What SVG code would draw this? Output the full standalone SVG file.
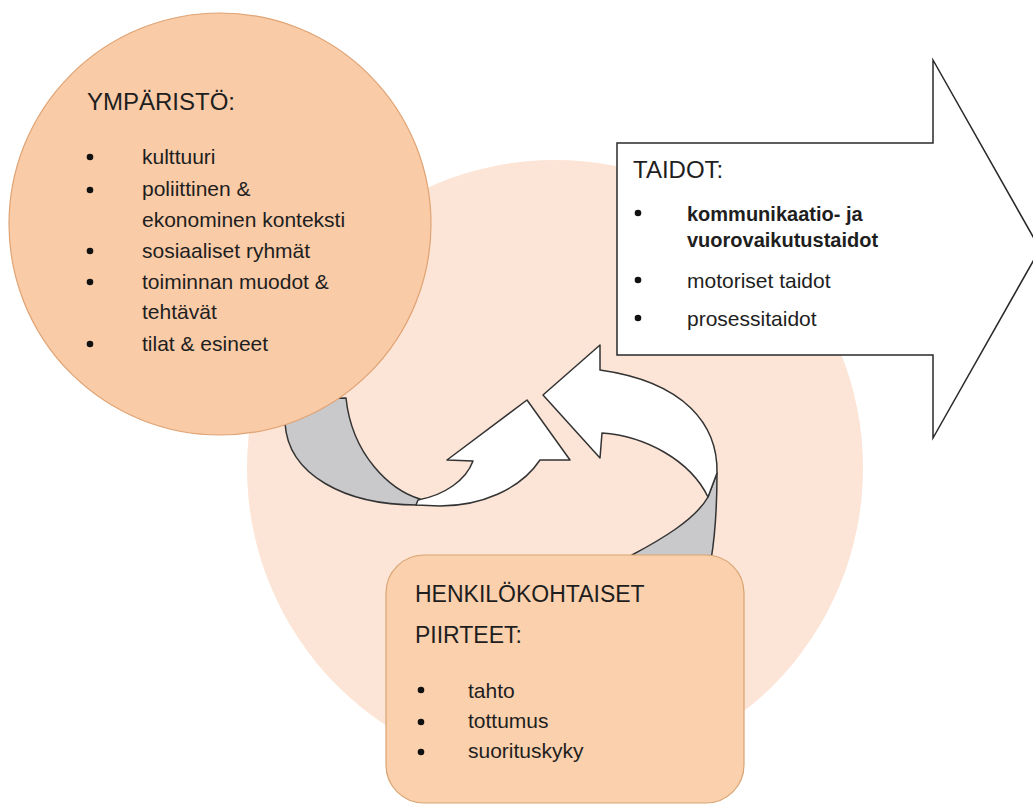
<svg xmlns="http://www.w3.org/2000/svg" width="1033" height="805" viewBox="0 0 1033 805">
<style>
text{font-family:"Liberation Sans",Arial,sans-serif;fill:#1e1e1e}
.h{font-size:24px}
.h2{font-size:23px}
.i{font-size:21px}
.b{font-size:20px;font-weight:bold}
.dot{fill:#111}
.rib{stroke:#333333;stroke-width:1.5;stroke-linejoin:round}
.back{fill:#c9c9cb}
.front{fill:#ffffff}
</style>
<rect width="1033" height="805" fill="#ffffff"/>
<g id="background-circle">
<circle cx="555" cy="468" r="308" fill="#fce5d6"/>
</g>
<g id="connectors">
<path class="rib back" d="M284,400 L285,423 C288,475 345,505 417,505 L420,499 C390,490 352,455 346,398 Z"/>
<path class="rib front" d="M416,505 L440,506 C480,506 520,490 540,460 L570,460 L527,400 L447,460 L473,461 C466,480 445,495 418,500 Z"/>
<path class="rib back" d="M630,562 L632,555 C660,540 695,520 708,497 L717,473 C717,500 716,530 711,560 Z"/>
<path class="rib front" d="M717,473 C718,425 685,382 600,370 L600,345 L543,395 L600,458 L602,433 C645,436 690,460 708,497 Z"/>
</g>
<g id="ymparisto">
<circle cx="220" cy="224" r="211" fill="#f9cba7" stroke="#e0a373" stroke-width="1.2"/>
<text class="h" x="87" y="110">YMPÄRISTÖ:</text>
<circle class="dot" cx="90" cy="157" r="3.3"/>
<circle class="dot" cx="90" cy="190" r="3.3"/>
<circle class="dot" cx="90" cy="251" r="3.3"/>
<circle class="dot" cx="90" cy="282" r="3.3"/>
<circle class="dot" cx="90" cy="344" r="3.3"/>
<text class="i" x="142" y="164">kulttuuri</text>
<text class="i" x="142" y="196">poliittinen &amp;</text>
<text class="i" x="142" y="227">ekonominen konteksti</text>
<text class="i" x="142" y="258">sosiaaliset ryhmät</text>
<text class="i" x="142" y="289">toiminnan muodot &amp;</text>
<text class="i" x="142" y="319">tehtävät</text>
<text class="i" x="142" y="351">tilat &amp; esineet</text>
</g>
<g id="taidot">
<path d="M617,143 L933,143 L933,60 L1040,249 L933,438 L933,355 L617,355 Z" fill="#ffffff" stroke="#2a2a2a" stroke-width="1.5"/>
<text class="h" x="633" y="178">TAIDOT:</text>
<circle class="dot" cx="638" cy="213" r="3.3"/>
<circle class="dot" cx="638" cy="280" r="3.3"/>
<circle class="dot" cx="638" cy="318" r="3.3"/>
<text class="b" x="687" y="221">kommunikaatio- ja</text>
<text class="b" x="687" y="247">vuorovaikutustaidot</text>
<text class="i" x="687" y="288">motoriset taidot</text>
<text class="i" x="687" y="326">prosessitaidot</text>
</g>
<g id="henkilokohtaiset">
<rect x="386" y="555" width="358" height="248" rx="38" ry="38" fill="#fad0ad" stroke="#d9a472" stroke-width="1.2"/>
<text class="h2" x="415" y="602">HENKILÖKOHTAISET</text>
<text class="h2" x="415" y="643">PIIRTEET:</text>
<circle class="dot" cx="421" cy="690" r="3.3"/>
<circle class="dot" cx="421" cy="722" r="3.3"/>
<circle class="dot" cx="421" cy="752" r="3.3"/>
<text class="i" x="468" y="698">tahto</text>
<text class="i" x="468" y="728">tottumus</text>
<text class="i" x="468" y="758">suorituskyky</text>
</g>
</svg>
